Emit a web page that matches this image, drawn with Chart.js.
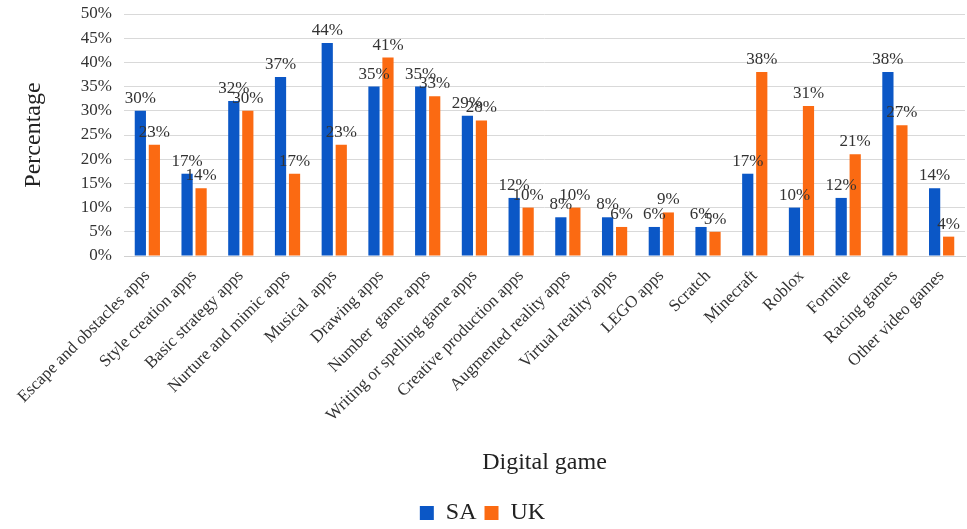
<!DOCTYPE html>
<html>
<head>
<meta charset="utf-8">
<script src="https://cdn.jsdelivr.net/npm/chart.js@4"></script>
<style>
  html, body { margin: 0; padding: 0; background: #fff; }
  #wrap { width: 967px; height: 529px; }
</style>
</head>
<body>
<div id="wrap"><canvas id="gameChart"></canvas></div>
<script>
const categories = [
  "Escape and obstacles apps", "Style creation apps", "Basic strategy apps",
  "Nurture and mimic apps", "Musical  apps", "Drawing apps", "Number  game apps",
  "Writing or spelling game apps", "Creative production apps",
  "Augmented reality apps", "Virtual reality apps", "LEGO apps", "Scratch",
  "Minecraft", "Roblox", "Fortnite", "Racing games", "Other video games"
];
const saValues = [30, 17, 32, 37, 44, 35, 35, 29, 12, 8, 8, 6, 6, 17, 10, 12, 38, 14];
const ukValues = [23, 14, 30, 17, 23, 41, 33, 28, 10, 10, 6, 9, 5, 38, 31, 21, 27, 4];

const serif = "'Liberation Serif', 'Times New Roman', serif";

// draws the percentage above each bar
const valueLabels = {
  id: "valueLabels",
  afterDatasetsDraw(chart) {
    const ctx = chart.ctx;
    ctx.save();
    ctx.font = "17px " + serif;
    ctx.fillStyle = "#333";
    ctx.textAlign = "center";
    ctx.textBaseline = "bottom";
    chart.data.datasets.forEach((ds, i) => {
      chart.getDatasetMeta(i).data.forEach((bar, j) => {
        ctx.fillText(ds.data[j] + "%", bar.x, bar.y - 4);
      });
    });
    ctx.restore();
  }
};

const ctx = document.getElementById("gameChart").getContext("2d");
new Chart(ctx, {
  type: "bar",
  data: {
    labels: categories,
    datasets: [
      {
        label: "SA",
        data: saValues,
        backgroundColor: "#0b57c6",
        categoryPercentage: 0.6,
        barPercentage: 0.8
      },
      {
        label: "UK",
        data: ukValues,
        backgroundColor: "#fb6a12",
        categoryPercentage: 0.6,
        barPercentage: 0.8
      }
    ]
  },
  options: {
    responsive: true,
    maintainAspectRatio: false,
    animation: false,
    layout: { padding: { top: 14, right: 2, left: 0, bottom: -6 } },
    plugins: {
      tooltip: { enabled: false },
      legend: {
        position: "bottom",
        labels: {
          color: "#222",
          font: { family: serif, size: 24 },
          boxWidth: 14,
          boxHeight: 14,
          padding: 8
        }
      }
    },
    scales: {
      x: {
        grid: { display: false },
        border: { color: "#d0d0d0" },
        ticks: {
          color: "#333",
          font: { family: serif, size: 17 },
          minRotation: 45,
          maxRotation: 45,
          autoSkip: false,
          padding: 2
        },
        title: {
          display: true,
          text: "Digital game",
          color: "#222",
          font: { family: serif, size: 24 },
          padding: { top: 4, bottom: 16 }
        },
        afterFit(scale) {
          scale.height = 237;
          scale.paddingLeft = 0;
          scale.paddingRight = 0;
        }
      },
      y: {
        min: 0,
        max: 50,
        grid: { color: "#d9d9d9", drawTicks: false },
        border: { display: false },
        ticks: {
          stepSize: 5,
          autoSkip: false,
          color: "#333",
          font: { family: serif, size: 17 },
          padding: 12,
          callback: v => v + "%"
        },
        title: {
          display: true,
          text: "Percentage",
          color: "#222",
          font: { family: serif, size: 24 },
          padding: { top: 19, bottom: 4 }
        },
        afterFit(scale) {
          scale.width = 124;
          scale.paddingTop = 0;
          scale.paddingBottom = 0;
        }
      }
    }
  },
  plugins: [valueLabels]
});
</script>
</body>
</html>
